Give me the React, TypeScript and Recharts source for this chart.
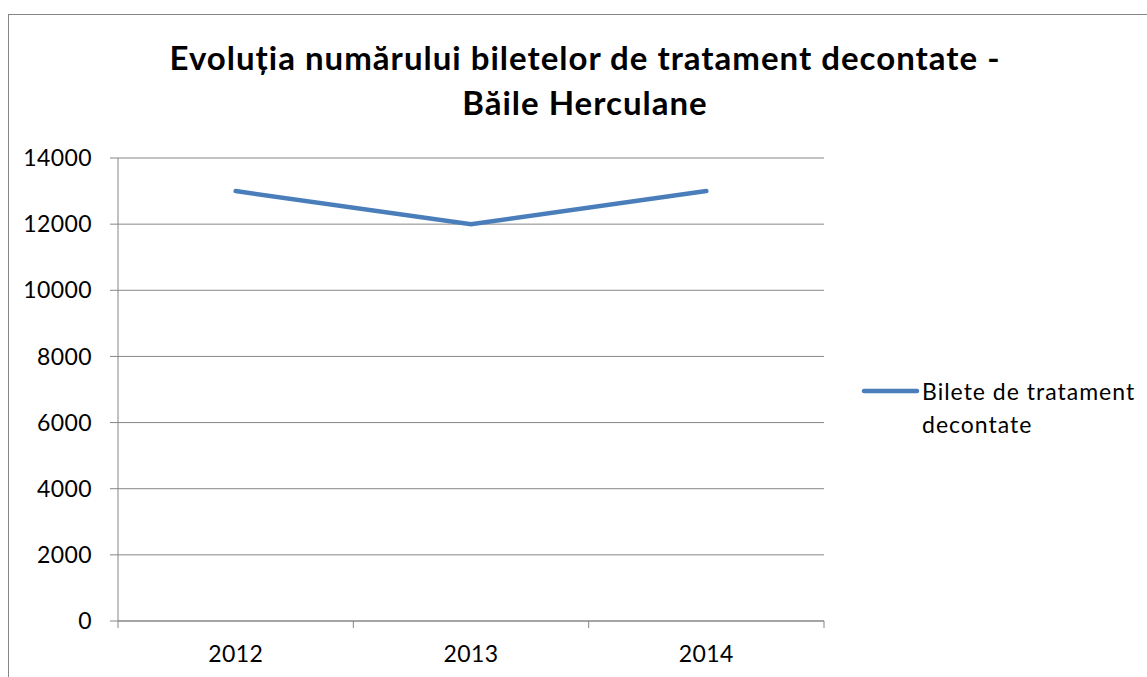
import React from 'react';
import { LineChart, Line, XAxis, YAxis, CartesianGrid, Legend } from 'recharts';

const years = ['2012', '2013', '2014'];
const tickets = [13000, 12000, 13000];
const yTicks = [0, 2000, 4000, 6000, 8000, 10000, 12000, 14000];
const seriesName = 'Bilete de tratament decontate';
const titleLines = ['Evoluția numărului biletelor de tratament decontate -', 'Băile Herculane'];

const data = years.map((y, i) => ({ x: i + 0.5, year: y, value: tickets[i] }));
const xTicks = [0, 0.5, 1, 1.5, 2, 2.5, 3];

const FONT = 'Lato, "Open Sans", sans-serif';
const GRAY = '#868686';
const BLUE = '#4a7ebb';

const XTick = (props: any) => {
  const { x, y, payload } = props;
  const v = payload.value;
  if (Number.isInteger(v)) {
    return <line x1={x} y1={y} x2={x} y2={y + 7} stroke={GRAY} strokeWidth={1} />;
  }
  const idx = Math.floor(v);
  return (
    <text x={x} y={y + 41} textAnchor="middle" fill="#000" fontSize={23} fontFamily={FONT} letterSpacing={0.4}>
      {years[idx]}
    </text>
  );
};

const LegendContent = () => (
  <div style={{ display: 'flex', alignItems: 'flex-start', fontFamily: FONT, fontSize: 23, lineHeight: '33px', letterSpacing: 1, color: '#000' }}>
    <svg width={63} height={33} style={{ flex: 'none' }}>
      <line x1={5} y1={16} x2={58} y2={16} stroke={BLUE} strokeWidth={4.5} strokeLinecap="round" />
    </svg>
    <div style={{ width: 225 }}>{seriesName}</div>
  </div>
);

export default function App() {
  return (
    <div style={{ position: 'fixed', left: 0, top: 0, width: 1147, height: 677, overflow: 'hidden', background: '#fff' }}>
      <div style={{ position: 'absolute', left: 8, top: 14, width: 1300, height: 800, border: `1px solid ${GRAY}` }} />
      <div
        style={{
          position: 'absolute',
          left: 0,
          top: 35,
          width: 1170,
          textAlign: 'center',
          fontFamily: FONT,
          fontWeight: 700,
          fontSize: 33,
          lineHeight: '45px',
          letterSpacing: 1,
          color: '#000',
        }}
      >
        {titleLines.map((t, i) => (
          <div key={i}>{t}</div>
        ))}
      </div>
      <div style={{ position: 'absolute', left: 0, top: 0 }}>
        <LineChart width={1147} height={677} data={data} margin={{ top: 158, right: 323, bottom: 0, left: 0 }}>
          <CartesianGrid vertical={false} stroke={GRAY} strokeWidth={1} />
          <XAxis
            dataKey="x"
            type="number"
            domain={[0, 3]}
            ticks={xTicks}
            interval={0}
            height={56}
            tickSize={0}
            tickMargin={0}
            tickLine={false}
            axisLine={{ stroke: GRAY }}
            tick={<XTick />}
          />
          <YAxis
            type="number"
            domain={[0, 14000]}
            ticks={yTicks}
            interval={0}
            width={118}
            tickSize={8}
            tickMargin={18}
            axisLine={{ stroke: GRAY }}
            tickLine={{ stroke: GRAY }}
            tick={{ fill: '#000', fontSize: 23, fontFamily: FONT, letterSpacing: 0.4 }}
          />
          <Legend
            layout="horizontal"
            align="center"
            verticalAlign="middle"
            content={<LegendContent />}
            wrapperStyle={{ left: 859, top: 375, width: 290, height: 70 }}
          />
          <Line
            type="linear"
            dataKey="value"
            name={seriesName}
            stroke={BLUE}
            strokeWidth={4.5}
            strokeLinecap="round"
            dot={false}
            activeDot={false}
            isAnimationActive={false}
          />
        </LineChart>
      </div>
    </div>
  );
}
